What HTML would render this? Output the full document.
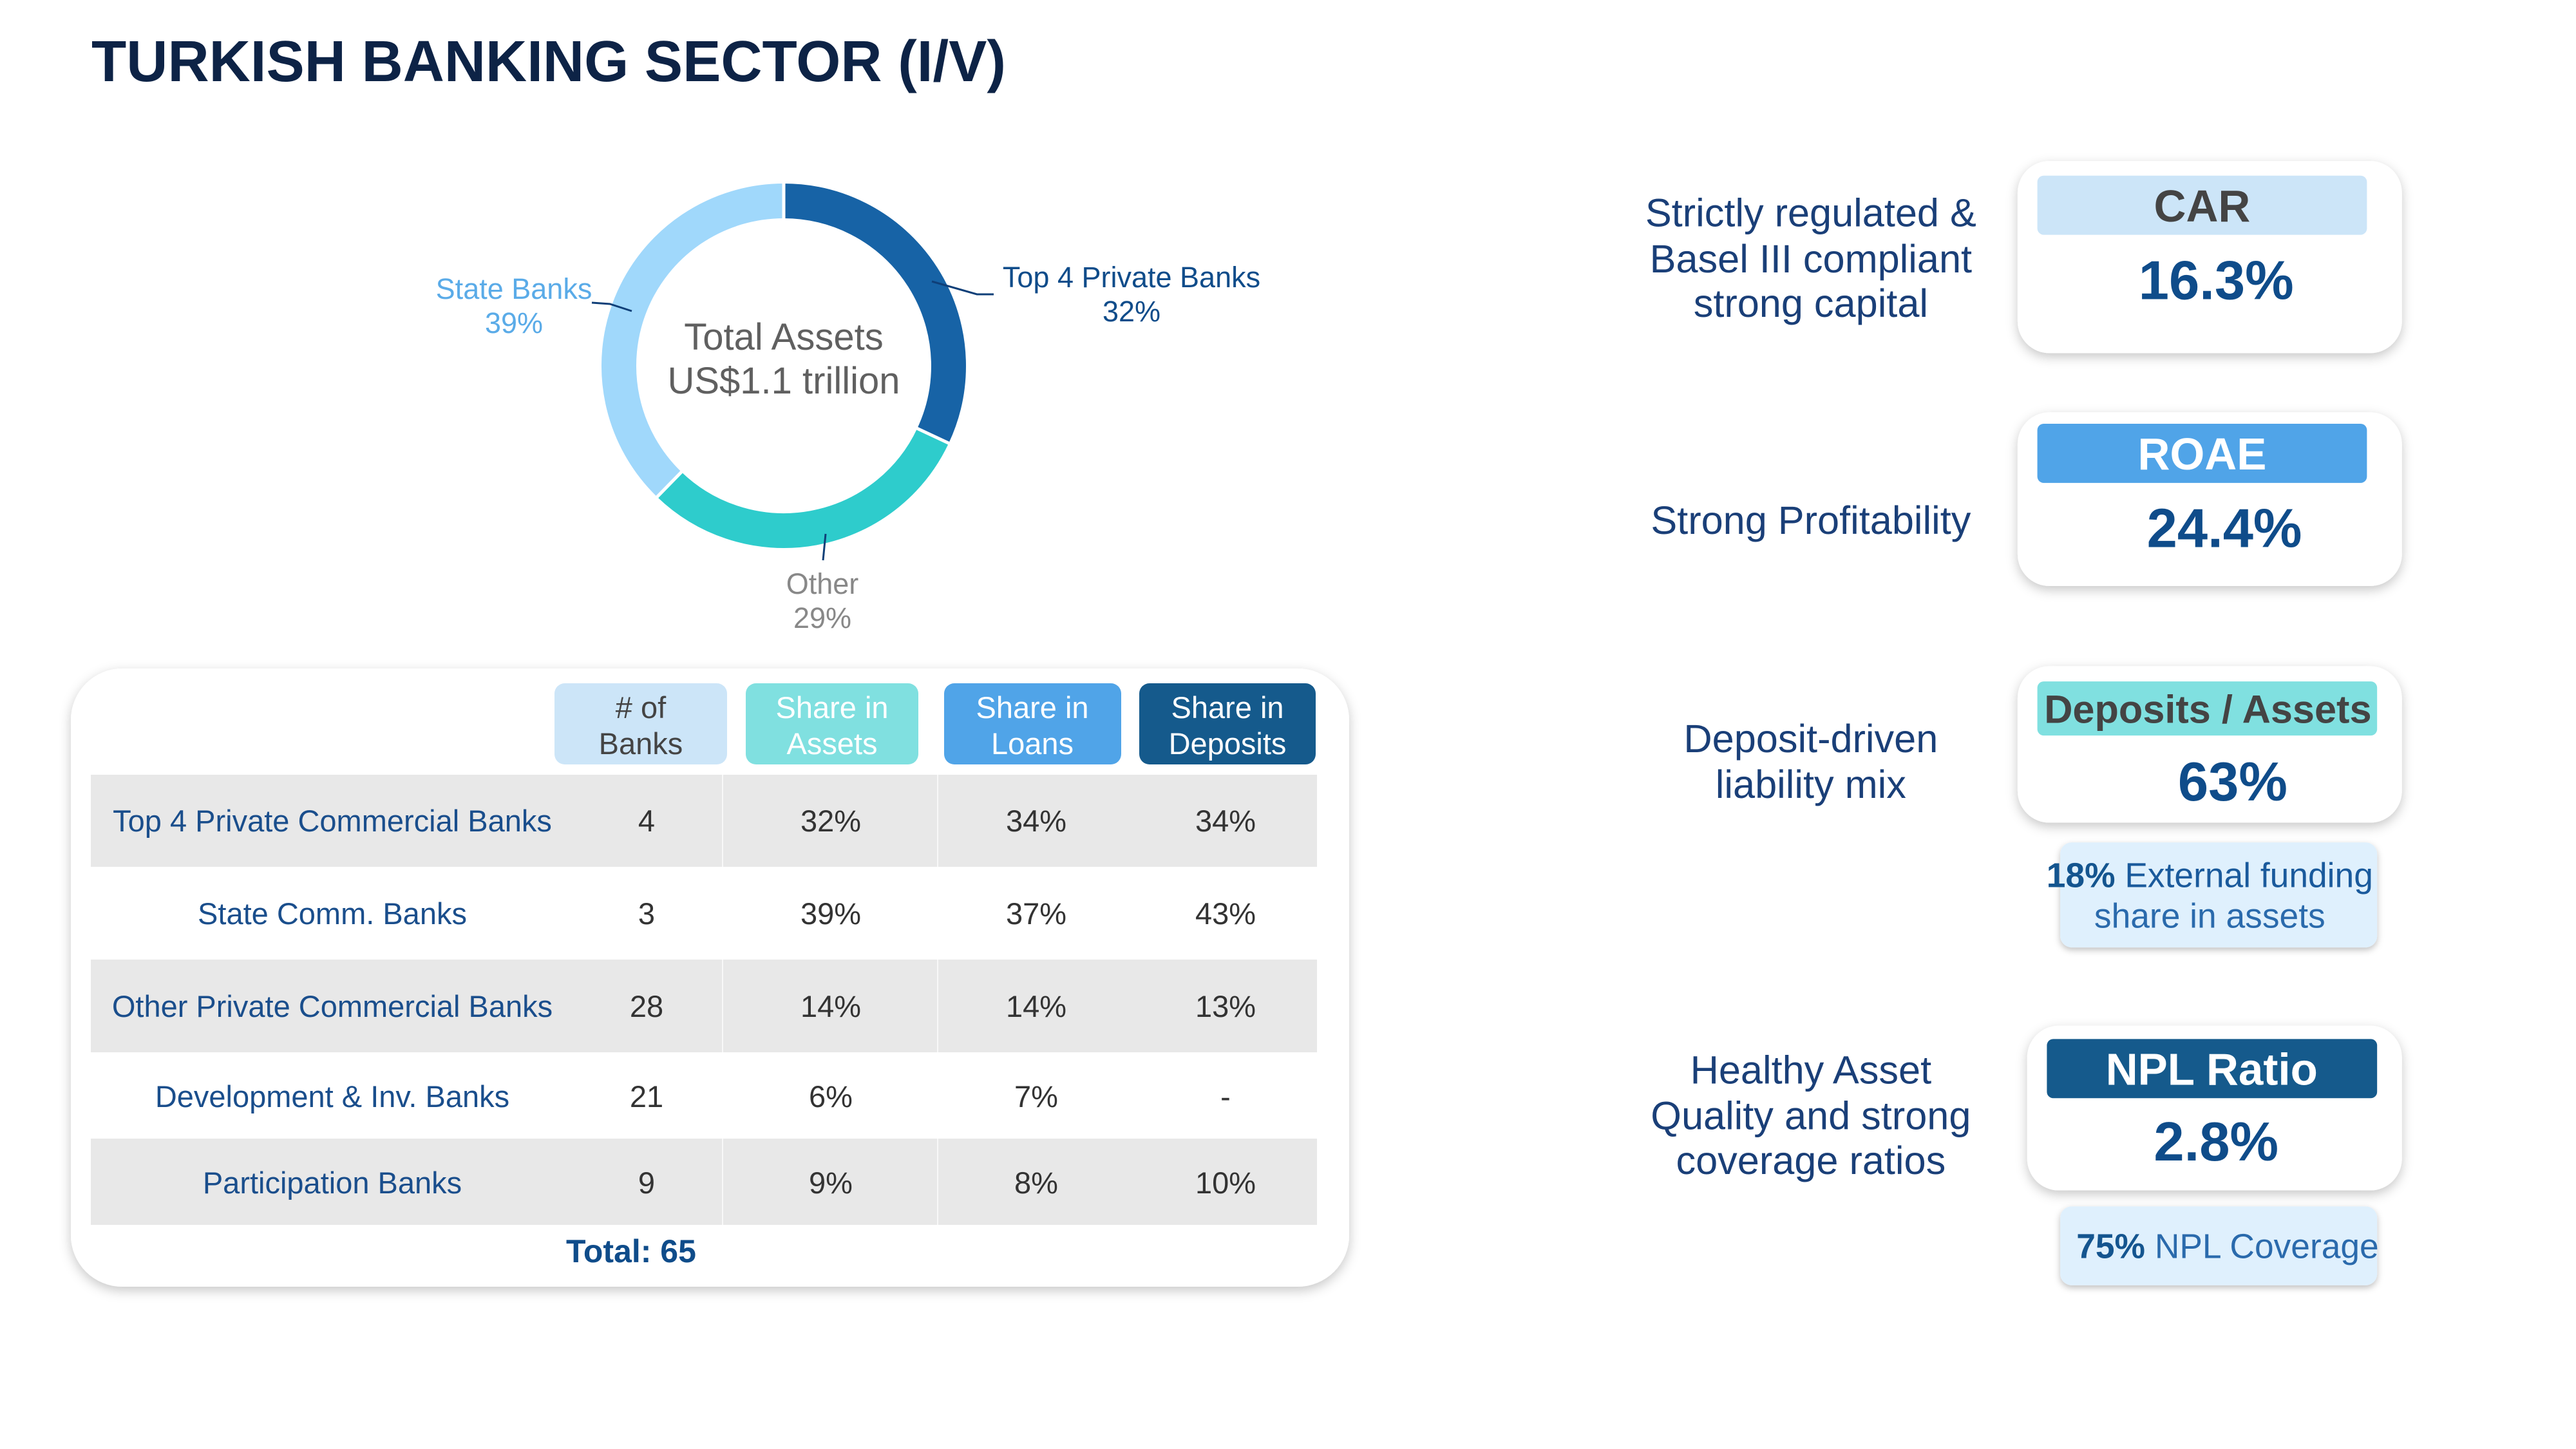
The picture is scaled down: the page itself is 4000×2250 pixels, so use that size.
<!DOCTYPE html>
<html><head><meta charset="utf-8"><style>html,body{margin:0;padding:0;background:#fff}svg{display:block}</style></head>
<body>
<svg width="4000" height="2250" viewBox="0 0 4000 2250" xmlns="http://www.w3.org/2000/svg" font-family="Liberation Sans, DejaVu Sans, sans-serif">
<defs>
<filter id="sh" x="-10%" y="-10%" width="120%" height="125%"><feDropShadow dx="0" dy="6" stdDeviation="9" flood-color="#000" flood-opacity="0.22"/></filter>
<filter id="sh2" x="-10%" y="-10%" width="120%" height="130%"><feDropShadow dx="0" dy="4" stdDeviation="5" flood-color="#000" flood-opacity="0.25"/></filter>
</defs>
<rect width="4000" height="2250" fill="#fff"/>
<text x="142" y="126" font-size="90" font-weight="bold" fill="#0d2346" textLength="1420" lengthAdjust="spacingAndGlyphs">TURKISH BANKING SECTOR (I/V)</text>

<g transform="translate(-5,-2)">
<g fill="none" stroke-width="54">
<path d="M1222 314 A256 256 0 0 1 1453.7 678.8" stroke="#1763a6"/>
<path d="M1453.7 678.8 A256 256 0 0 1 1044.2 754.2" stroke="#2ecccc"/>
<path d="M1044.2 754.2 A256 256 0 0 1 1222 314" stroke="#a0d8fb"/>
</g>
<g stroke="#fff" stroke-width="5">
<line x1="1222" y1="284" x2="1222" y2="344"/>
<line x1="1426.5" y1="666" x2="1481" y2="691.5"/>
<line x1="1065" y1="733" x2="1023" y2="776"/>
</g>
<text x="1222" y="545" font-size="58" fill="#606060" text-anchor="middle">Total Assets</text>
<text x="1222" y="613" font-size="58" fill="#606060" text-anchor="middle">US$1.1 trillion</text>
<g font-size="45" text-anchor="middle">
<text x="803" y="466" fill="#5aabe8">State Banks</text>
<text x="803" y="519" fill="#5aabe8">39%</text>
<text x="1762" y="448" fill="#0f4c8a">Top 4 Private Banks</text>
<text x="1762" y="501" fill="#0f4c8a">32%</text>
<text x="1282" y="924" fill="#888">Other</text>
<text x="1282" y="977" fill="#888">29%</text>
</g>
<g stroke="#0f3f78" stroke-width="3" fill="none">
<polyline points="924,472 952,474 986,485"/>
<polyline points="1452,439 1522,459 1548,459"/>
<line x1="1287" y1="831" x2="1283" y2="872"/>
</g>
</g>

<rect x="110" y="1038" width="1985" height="960" rx="80" fill="#fff" filter="url(#sh)"/>
<rect x="861" y="1061" width="268" height="126" rx="16" fill="#cce5f8"/>
<rect x="1158" y="1061" width="268" height="126" rx="16" fill="#80e0e0"/>
<rect x="1466" y="1061" width="275" height="126" rx="16" fill="#50a4e8"/>
<rect x="1769" y="1061" width="274" height="126" rx="16" fill="#155a8c"/>
<g font-size="47" text-anchor="middle">
<text x="995" y="1115" fill="#444"># of</text><text x="995" y="1171" fill="#444">Banks</text>
<text x="1292" y="1115" fill="#fff">Share in</text><text x="1292" y="1171" fill="#fff">Assets</text>
<text x="1603" y="1115" fill="#fff">Share in</text><text x="1603" y="1171" fill="#fff">Loans</text>
<text x="1906" y="1115" fill="#fff">Share in</text><text x="1906" y="1171" fill="#fff">Deposits</text>
</g>
<rect x="141" y="1203" width="1904" height="143" fill="#e8e8e8"/>
<rect x="141" y="1490" width="1904" height="144" fill="#e8e8e8"/>
<rect x="141" y="1768" width="1904" height="134" fill="#e8e8e8"/>
<g stroke="#fff" stroke-width="2" opacity="0.7">
<line x1="1122" y1="1203" x2="1122" y2="1902"/><line x1="1456" y1="1203" x2="1456" y2="1902"/>
</g>
<g font-size="47" text-anchor="middle">
<g fill="#1a4e8c">
<text x="516" y="1291">Top 4 Private Commercial Banks</text>
<text x="516" y="1435">State Comm. Banks</text>
<text x="516" y="1579">Other Private Commercial Banks</text>
<text x="516" y="1719">Development &amp; Inv. Banks</text>
<text x="516" y="1853">Participation Banks</text>
</g>
<g fill="#333">
<text x="1004" y="1291">4</text><text x="1290" y="1291">32%</text><text x="1609" y="1291">34%</text><text x="1903" y="1291">34%</text>
<text x="1004" y="1435">3</text><text x="1290" y="1435">39%</text><text x="1609" y="1435">37%</text><text x="1903" y="1435">43%</text>
<text x="1004" y="1579">28</text><text x="1290" y="1579">14%</text><text x="1609" y="1579">14%</text><text x="1903" y="1579">13%</text>
<text x="1004" y="1719">21</text><text x="1290" y="1719">6%</text><text x="1609" y="1719">7%</text><text x="1903" y="1719">-</text>
<text x="1004" y="1853">9</text><text x="1290" y="1853">9%</text><text x="1609" y="1853">8%</text><text x="1903" y="1853">10%</text>
</g>
<text x="980" y="1960" font-weight="bold" fill="#0f4c8a" font-size="50">Total: 65</text>
</g>

<g transform="scale(0.988)">
<g font-size="62" fill="#1a3f78" text-anchor="middle">
<text x="2846" y="356">Strictly regulated &amp;</text>
<text x="2846" y="428">Basel III compliant</text>
<text x="2846" y="498">strong capital</text>
<text x="2846" y="839">Strong Profitability</text>
<text x="2846" y="1182">Deposit-driven</text>
<text x="2846" y="1254">liability mix</text>
<text x="2846" y="1703">Healthy Asset</text>
<text x="2846" y="1775">Quality and strong</text>
<text x="2846" y="1845">coverage ratios</text>
</g>

<rect x="3171" y="253" width="604" height="302" rx="50" fill="#fff" filter="url(#sh)"/>
<rect x="3202" y="276" width="518" height="93" rx="10" fill="#cce5f8"/>
<text x="3461" y="348" font-size="70" font-weight="bold" fill="#444" text-anchor="middle">CAR</text>
<text x="3483" y="470" font-size="86" font-weight="bold" fill="#0f4c8a" text-anchor="middle">16.3%</text>

<rect x="3171" y="648" width="604" height="273" rx="50" fill="#fff" filter="url(#sh)"/>
<rect x="3202" y="666" width="518" height="93" rx="10" fill="#50a4e8"/>
<text x="3461" y="738" font-size="70" font-weight="bold" fill="#fff" text-anchor="middle">ROAE</text>
<text x="3496" y="860" font-size="86" font-weight="bold" fill="#0f4c8a" text-anchor="middle">24.4%</text>

<rect x="3171" y="1047" width="604" height="246" rx="50" fill="#fff" filter="url(#sh)"/>
<rect x="3202" y="1071" width="534" height="85" rx="10" fill="#80e0e0"/>
<text x="3470" y="1136" font-size="62" font-weight="bold" fill="#444" text-anchor="middle">Deposits / Assets</text>
<text x="3509" y="1258" font-size="86" font-weight="bold" fill="#0f4c8a" text-anchor="middle">63%</text>

<rect x="3238" y="1324" width="498" height="165" rx="18" fill="#dff0fd" filter="url(#sh2)"/>
<text x="3473" y="1394" font-size="54" text-anchor="middle" fill="#1a5a9c"><tspan font-weight="bold" fill="#14558f">18%</tspan> External funding</text>
<text x="3473" y="1458" font-size="54" text-anchor="middle" fill="#2a6aac">share in assets</text>

<rect x="3186" y="1612" width="589" height="259" rx="50" fill="#fff" filter="url(#sh)"/>
<rect x="3217" y="1633" width="519" height="93" rx="10" fill="#155a8c"/>
<text x="3476" y="1705" font-size="70" font-weight="bold" fill="#fff" text-anchor="middle">NPL Ratio</text>
<text x="3483" y="1824" font-size="86" font-weight="bold" fill="#0f4c8a" text-anchor="middle">2.8%</text>

<rect x="3238" y="1896" width="498" height="124" rx="18" fill="#dff0fd" filter="url(#sh2)"/>
<text x="3501" y="1977" font-size="54" text-anchor="middle" fill="#2a6aac"><tspan font-weight="bold" fill="#14558f">75%</tspan> NPL Coverage</text>
</g>
</svg>
</body></html>
